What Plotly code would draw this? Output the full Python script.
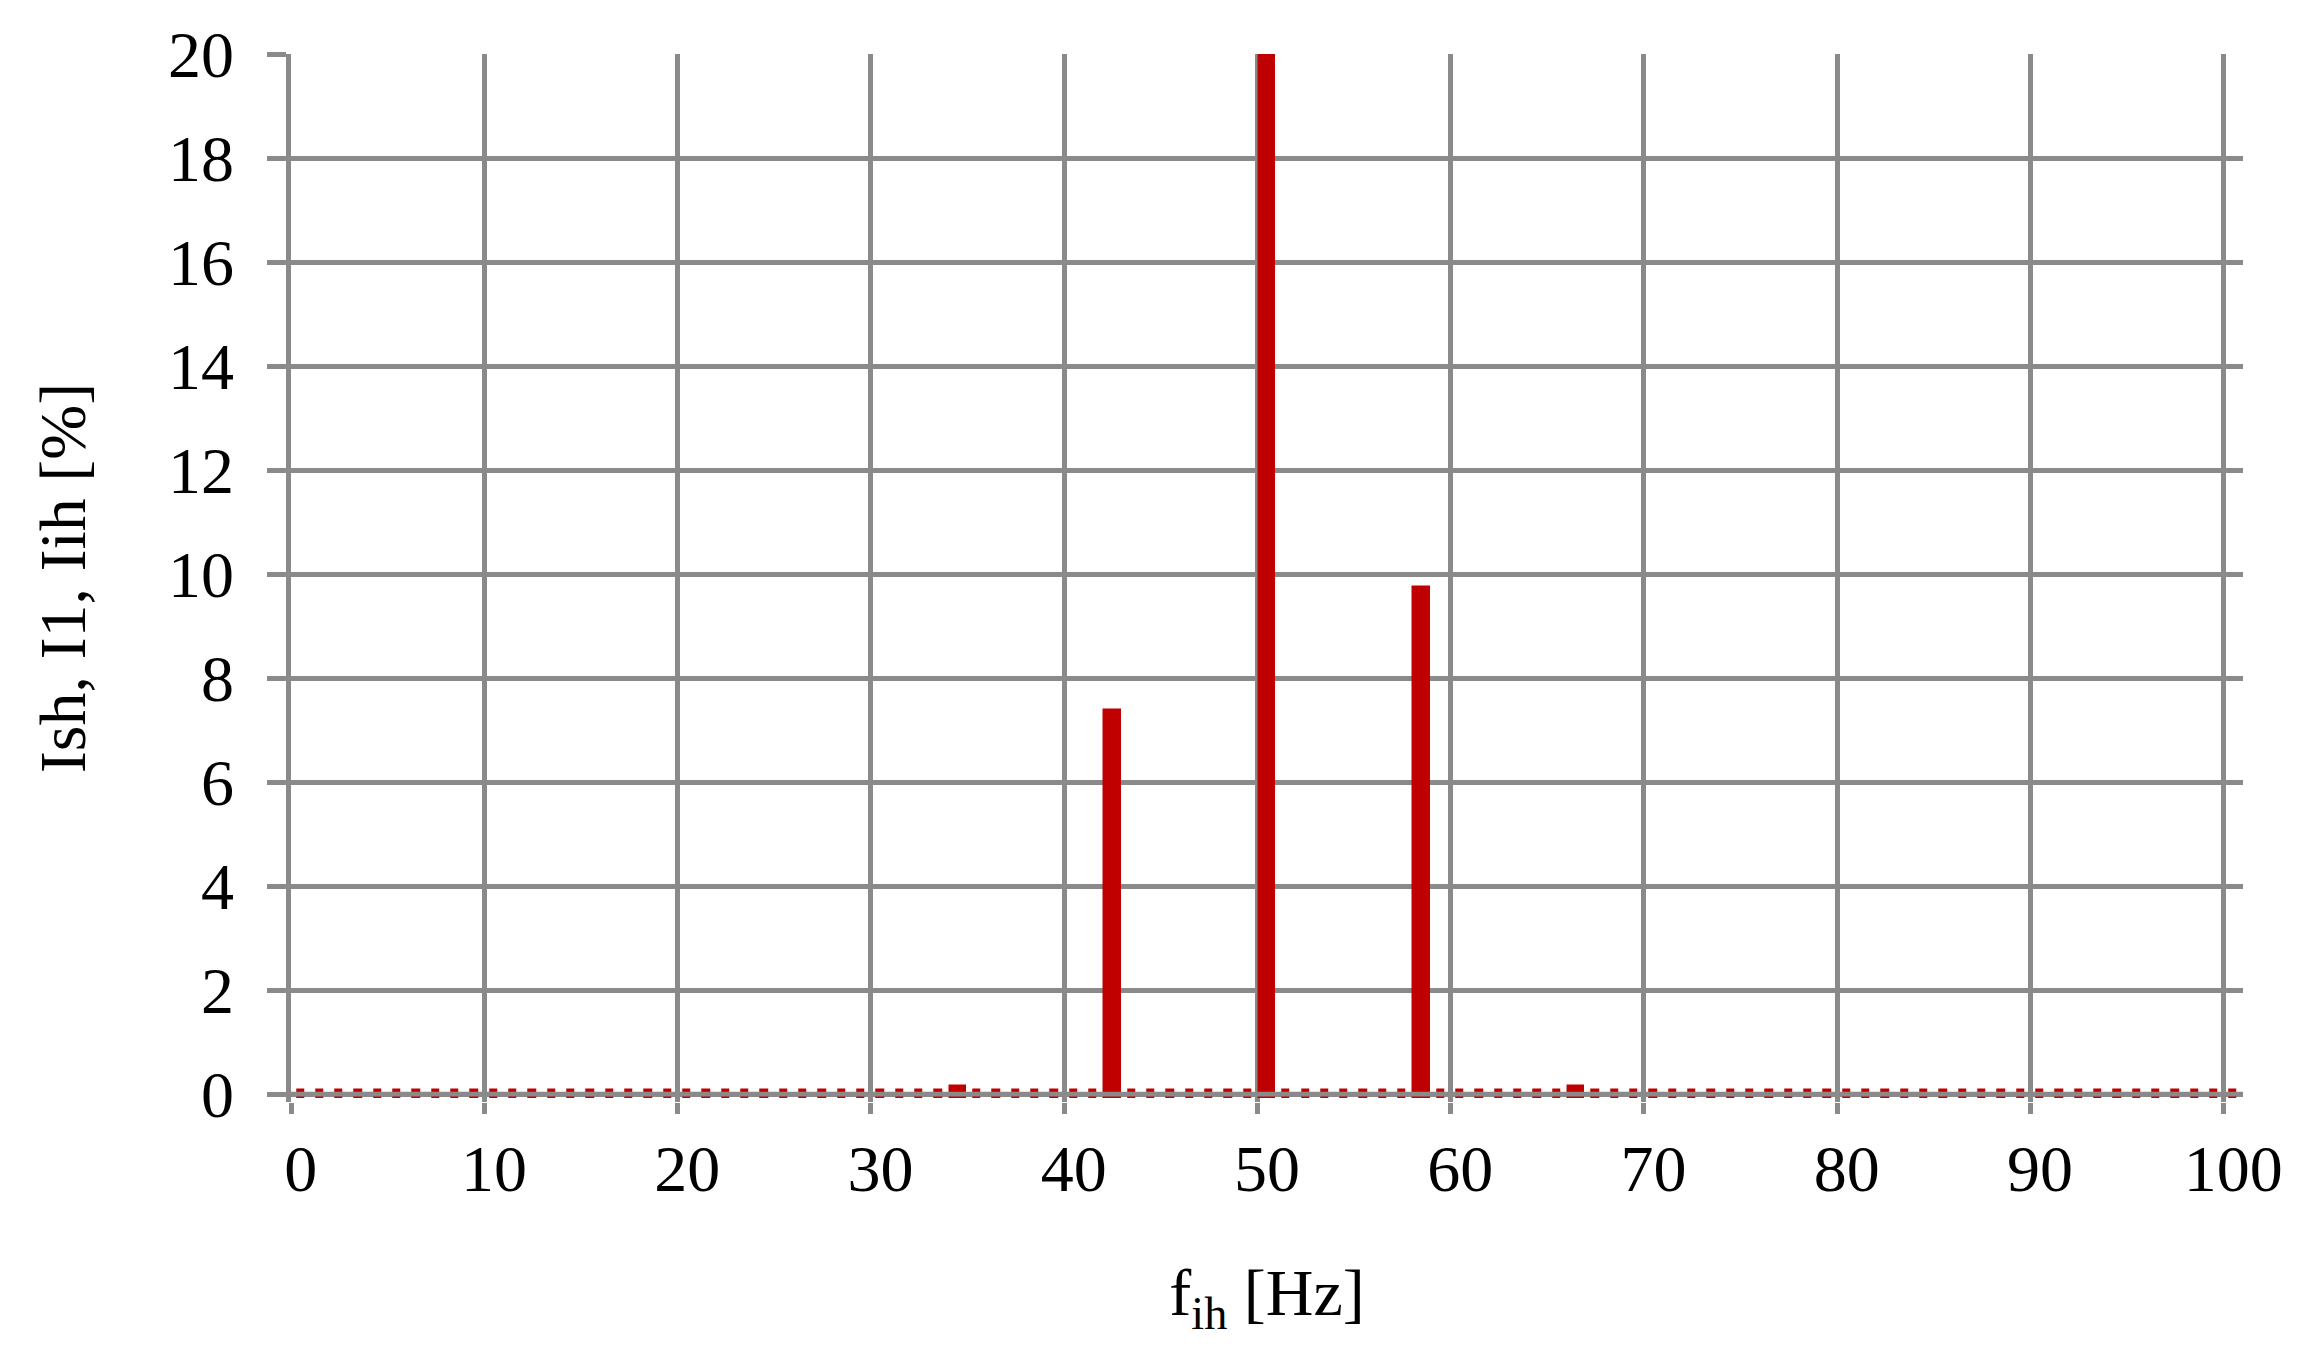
import plotly.graph_objects as go

# Frequency categories (Hz)
freq = list(range(0, 101))

# Current amplitude per frequency [%] (50 Hz fundamental clipped at 20)
current = [
    0.01, 0.01, 0.01, 0.01, 0.01, 0.01, 0.01, 0.01, 0.01, 0.01,
    0.01, 0.01, 0.01, 0.01, 0.01, 0.01, 0.01, 0.01, 0.01, 0.01,
    0.01, 0.01, 0.01, 0.01, 0.01, 0.01, 0.01, 0.01, 0.01, 0.01,
    0.01, 0.01, 0.01, 0.01, 0.075, 0.01, 0.01, 0.01, 0.01, 0.01,
    0.01, 0.01, 7.31, 0.01, 0.01, 0.01, 0.01, 0.01, 0.01, 0.01,
    100.0, 0.01, 0.01, 0.01, 0.01, 0.01, 0.01, 0.01, 9.67, 0.01,
    0.01, 0.01, 0.01, 0.01, 0.01, 0.01, 0.075, 0.01, 0.01, 0.01,
    0.01, 0.01, 0.01, 0.01, 0.01, 0.01, 0.01, 0.01, 0.01, 0.01,
    0.01, 0.01, 0.01, 0.01, 0.01, 0.01, 0.01, 0.01, 0.01, 0.01,
    0.01, 0.01, 0.01, 0.01, 0.01, 0.01, 0.01, 0.01, 0.01, 0.01,
    0.01,
]

x_tick_vals = [0, 10, 20, 30, 40, 50, 60, 70, 80, 90, 100]
x_tick_text = ["0", "10", "20", "30", "40", "50", "60", "70", "80", "90", "100"]
x_grid_vals = [-0.5, 9.5, 19.5, 29.5, 39.5, 49.5, 59.5, 69.5, 79.5, 89.5, 99.5]
y_tick_vals = [0, 2, 4, 6, 8, 10, 12, 14, 16, 18, 20]

RED = "#C00000"
GRID = "#8A8A8A"
GW = 4.7
FONT = "Liberation Serif"

fig = go.Figure()
fig.add_trace(go.Bar(
    x=freq, y=current,
    width=0.43,
    marker=dict(color=RED, line=dict(color=RED, width=9.5)),
    showlegend=False,
))

# zero line drawn above the bars, as in the reference
fig.add_shape(type="line", xref="paper", x0=0, x1=1, yref="y", y0=0, y1=0,
              line=dict(color=GRID, width=GW), layer="above")

fig.update_layout(
    width=2305, height=1354,
    paper_bgcolor="white", plot_bgcolor="white",
    margin=dict(l=283, r=70, t=46, b=260),
    font=dict(family=FONT, size=66, color="black"),
    bargap=0,
)

fig.update_xaxes(
    range=[-0.5, 100.5],
    tickmode="array", tickvals=x_tick_vals, ticktext=x_tick_text,
    ticks="", showgrid=False, zeroline=False, showline=False,
    tickfont=dict(family=FONT, size=66, color="black"),
    ticklabelstandoff=22,
    minor=dict(tickmode="array", tickvals=x_grid_vals, ticks="outside",
               ticklen=11, tickwidth=GW, tickcolor=GRID,
               showgrid=True, gridcolor=GRID, gridwidth=GW),
    title=dict(text="f<sub>ih</sub> [Hz]", font=dict(family=FONT, size=66, color="black"),
               standoff=64),
    automargin=False,
)

fig.update_yaxes(
    range=[-0.15, 20],
    tickmode="array", tickvals=y_tick_vals,
    ticks="outside", ticklen=19, tickwidth=GW, tickcolor=GRID,
    showgrid=True, gridcolor=GRID, gridwidth=GW, zeroline=False,
    showline=True, linecolor=GRID, linewidth=GW,
    tickfont=dict(family=FONT, size=66, color="black"),
    ticklabelstandoff=20,
    title=dict(text="Ish, I1, Iih [%]", font=dict(family=FONT, size=66, color="black"),
               standoff=62),
    automargin=False,
)

fig.write_html("out.html")
